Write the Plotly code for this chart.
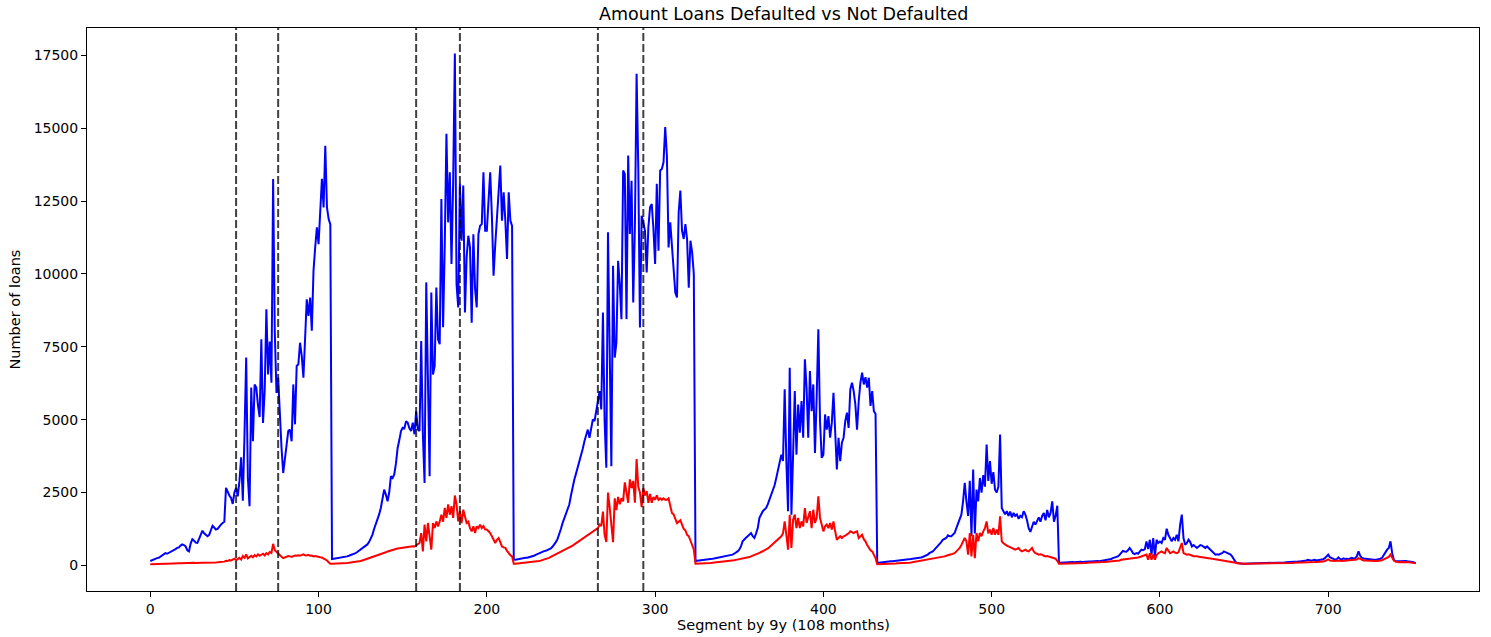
import plotly.graph_objects as go

# Monthly loan counts, one list per 108-month (9y) segment.
# Blue: loans not defaulted, red: loans defaulted.
not_defaulted_seg1 = [
    150, 180, 200, 230, 250, 260, 300, 330, 380, 420,
    400, 430, 460, 480, 520, 560, 600, 620, 680, 720,
    700, 650, 520, 480, 750, 900, 850, 780, 770, 900,
    1000, 1190, 1100, 1050, 1000, 1050, 1200, 1360, 1300, 1230,
    1250, 1350, 1400, 1455, 1500, 2660, 2500, 2400, 2315, 2110,
    2500, 2660, 2370, 2900, 3710, 2220, 4500, 7130, 3000, 2030,
    6100, 4260, 6210, 6100, 5500, 5090, 7760, 4890, 6000, 8790,
    6550, 7680, 6270, 13260, 8000, 5920, 6440, 5000, 4030, 3170,
    3600, 4200, 4610, 4660, 4260, 6210, 4840, 6840, 6900, 7640,
    7200, 6440, 7760, 9130, 8560, 9190, 8050, 10110, 10910, 11600,
    11020, 12280, 13260, 12280, 14400, 12280, 11880, 11700,
]
not_defaulted_seg2 = [
    220, 230, 240, 230, 250, 270, 260, 280, 300, 310,
    330, 350, 380, 400, 420, 460, 500, 540, 580, 620,
    680, 720, 800, 900, 1050, 1250, 1400, 1550, 1750, 1970,
    2300, 2600, 2430, 2200, 2500, 3060, 3000, 3120, 3500, 4030,
    4300, 4610, 4720, 4700, 4950, 4890, 4700, 4610, 4900, 4500,
    5290, 4660, 4610, 7700, 4490, 2830, 9710, 6500, 3060, 9360,
    6550, 6840, 9530, 7760, 7590, 12570, 8170, 11000, 14810, 11770,
    13490, 10340, 13150, 17560, 9650, 8850, 13090, 11140, 13030, 8680,
    10570, 11310, 10910, 8330, 11360, 9500, 8850, 11360, 11650, 11710,
    13490, 11480, 11480, 12500, 13490, 12000, 9940, 11000, 12060, 12970,
    13720, 11830, 12800, 11830, 10510, 12800, 11830, 11650,
]
not_defaulted_seg3 = [
    200, 195, 210, 220, 230, 240, 250, 260, 265, 275,
    290, 310, 330, 360, 390, 420, 440, 460, 490, 500,
    520, 540, 580, 640, 710, 800, 900, 1050, 1250, 1450,
    1630, 1800, 1950, 2090, 2400, 2720, 2950, 3150, 3350, 3600,
    3800, 4000, 4260, 4450, 4660, 4380, 4660, 5010, 4950, 5290,
    5600, 5980, 5350, 8680, 4950, 3350, 11430, 6780, 3400, 10280,
    7130, 7640, 10450, 9650, 8450, 13550, 13430, 8450, 14060, 11370,
    13200, 9020, 11650, 16870, 13660, 8160, 12000, 11770, 11480, 10050,
    11600, 12290, 12400, 11540, 10340, 13090, 10800, 13550, 13600, 13830,
    15040, 14060, 10910, 11770, 11020, 10110, 9360, 9190, 12110, 12860,
    11480, 11200, 11710, 11200, 9530, 11140, 10740, 10000,
]
not_defaulted_seg4 = [
    150, 160, 165, 170, 180, 190, 195, 200, 210, 220,
    230, 240, 250, 260, 270, 280, 290, 300, 310, 330,
    340, 350, 370, 400, 430, 480, 540, 650, 825, 900,
    950, 1000, 1060, 1110, 1000, 940, 1100, 1280, 1630, 1750,
    1860, 1920, 1970, 2100, 2260, 2400, 2540, 2750, 3000, 3250,
    3460, 3800, 3580, 6040, 3575, 1860, 6780, 1740, 3800, 5980,
    3800, 5520, 4550, 5640, 4380, 7070, 6100, 4380, 6670, 5290,
    6210, 3860, 5750, 8100, 4950, 3690, 3800, 5180, 4660, 5120,
    4380, 4890, 5920, 4720, 3290, 4380, 3580, 4210, 4380, 4950,
    5240, 4720, 6040, 6270, 5980, 5520, 4660, 5640, 6270, 6610,
    6210, 6460, 6100, 6440, 5470, 5980, 5290, 5200,
]
not_defaulted_seg5 = [
    80, 90, 100, 105, 110, 115, 120, 130, 140, 145,
    150, 160, 165, 170, 180, 185, 195, 200, 210, 215,
    220, 230, 235, 245, 250, 260, 270, 290, 310, 330,
    370, 420, 450, 480, 540, 600, 650, 710, 800, 880,
    900, 940, 1030, 1000, 1000, 1060, 1110, 1280, 1455, 1600,
    1740, 2200, 2830, 2200, 1700, 2900, 1000, 3290, 1100, 2600,
    2200, 3000, 2500, 3100, 2700, 4150, 2900, 3580, 2800, 3200,
    2600, 2500, 2700, 4490, 1970, 1860, 1750, 1860, 1700, 1850,
    1650, 1800, 1700, 1750, 1600, 1700, 1650, 1860, 1750, 1550,
    1280, 1150, 1350, 1500, 1400, 1550, 1650, 1500, 1700, 1800,
    1550, 1900, 1650, 1800, 2200, 1500, 1700, 2050,
]
not_defaulted_seg6 = [
    100, 95, 100, 105, 100, 110, 105, 110, 115, 110,
    120, 115, 120, 125, 120, 130, 125, 130, 135, 130,
    140, 140, 145, 150, 145, 155, 160, 160, 170, 180,
    200, 220, 250, 270, 290, 310, 360, 420, 500, 480,
    470, 520, 600, 520, 420, 390, 420, 400, 470, 540,
    520, 560, 825, 560, 880, 370, 940, 310, 880, 770,
    820, 770, 940, 880, 1260, 1050, 940, 825, 940, 880,
    1050, 825, 1400, 1740, 940, 710, 770, 880, 800, 650,
    700, 650, 600, 650, 700, 680, 640, 600, 650, 600,
    540, 480, 420, 370, 380, 370, 400, 420, 480, 450,
    420, 400, 370, 300, 195, 110, 80, 65,
]
not_defaulted_seg7 = [
    60, 60, 60, 65, 65, 65, 70, 70, 70, 75,
    75, 75, 80, 80, 80, 85, 85, 85, 90, 90,
    90, 95, 95, 95, 100, 100, 100, 105, 105, 110,
    110, 115, 120, 125, 130, 135, 140, 150, 160, 170,
    195, 170, 160, 180, 190, 170, 180, 200, 195, 210,
    250, 330, 370, 280, 250, 230, 200, 210, 275, 220,
    200, 240, 220, 230, 210, 240, 260, 230, 250, 310,
    480, 330, 260, 240, 230, 210, 200, 195, 190, 195,
    190, 200, 210, 230, 260, 370, 450, 540, 600, 825,
    420, 195, 140, 130, 140, 140, 150, 160, 150, 140,
    140, 130, 120, 100, 80,
]

defaulted_seg1 = [
    40, 45, 45, 50, 50, 55, 55, 55, 60, 60,
    60, 65, 65, 65, 70, 70, 70, 75, 75, 80,
    80, 80, 85, 85, 85, 90, 90, 85, 80, 80,
    85, 90, 90, 95, 95, 100, 100, 95, 95, 100,
    105, 110, 115, 120, 130, 160, 150, 180, 170, 200,
    230, 180, 210, 260, 200, 320, 260, 380, 240, 300,
    330, 280, 350, 310, 380, 330, 360, 400, 340, 420,
    380, 460, 430, 740, 520, 460, 400, 330, 300, 250,
    280, 300, 320, 310, 290, 320, 340, 330, 350, 330,
    360, 380, 350, 340, 360, 330, 340, 310, 320, 300,
    290, 280, 270, 240, 200, 170, 110, 60,
]
defaulted_seg2 = [
    60, 60, 65, 65, 70, 70, 75, 75, 80, 85,
    90, 95, 100, 110, 120, 130, 140, 150, 170, 190,
    210, 230, 250, 270, 290, 310, 330, 340, 350, 380,
    400, 430, 450, 480, 500, 520, 540, 560, 560, 580,
    590, 600, 600, 610, 620, 630, 640, 650, 660, 650,
    700, 740, 770, 1110, 480, 1400, 825, 1455, 1050, 540,
    1455, 1280, 1510, 1340, 1510, 1740, 1500, 1970, 1630, 2090,
    1740, 2030, 1630, 2400, 2090, 1510, 1860, 1455, 1910, 1630,
    1455, 1500, 1280, 1170, 1340, 1110, 1340, 1280, 1400, 1280,
    1350, 1230, 1230, 1170, 1110, 1000, 880, 770, 880, 940,
    800, 650, 620, 600, 500, 420, 350, 310,
]
defaulted_seg3 = [
    60, 60, 65, 70, 70, 75, 80, 85, 90, 95,
    100, 110, 120, 130, 140, 150, 165, 180, 200, 220,
    240, 260, 290, 320, 350, 370, 400, 430, 460, 490,
    520, 550, 580, 600, 640, 680, 720, 760, 800, 840,
    880, 920, 960, 1000, 1040, 1080, 1120, 1150, 1200, 1250,
    1280, 1400, 1350, 1850, 1050, 800, 2500, 2000, 1500, 800,
    2300, 1900, 2350, 2100, 2300, 2200, 2850, 2400, 2150, 2950,
    2650, 2900, 2150, 3650, 2700, 2500, 2000, 2650, 2400, 2550,
    2150, 2450, 2150, 2350, 2250, 2400, 2250, 2300, 2250, 2300,
    2250, 2250, 2300, 2050, 1800, 1750, 1600, 1450, 1500, 1550,
    1400, 1250, 1200, 1050, 1000, 850, 750, 550,
]
defaulted_seg4 = [
    60, 60, 65, 65, 70, 70, 75, 80, 80, 85,
    90, 95, 100, 105, 110, 115, 120, 130, 135, 140,
    150, 155, 160, 175, 190, 200, 210, 220, 230, 240,
    250, 270, 290, 310, 330, 350, 370, 400, 430, 460,
    490, 520, 540, 580, 630, 680, 720, 780, 825, 880,
    940, 1000, 1100, 1510, 1050, 540, 1740, 600, 1570, 1740,
    1280, 1630, 1280, 1510, 1340, 1970, 1455, 1630, 1860, 1280,
    1910, 1455, 1630, 2370, 1630, 1400, 1170, 1340, 1400, 1280,
    1455, 1230, 1510, 1170, 880, 940, 1000, 940, 1000, 1020,
    1050, 1100, 1170, 1140, 1110, 1150, 1170, 940, 1000, 1050,
    900, 825, 700, 600, 520, 480, 350, 250,
]
defaulted_seg5 = [
    40, 40, 45, 45, 50, 50, 55, 55, 60, 60,
    65, 65, 70, 70, 75, 80, 80, 85, 90, 95,
    100, 110, 120, 130, 140, 150, 160, 170, 180, 190,
    200, 210, 220, 230, 240, 250, 250, 270, 290, 300,
    310, 330, 340, 360, 380, 400, 420, 480, 540, 600,
    700, 800, 940, 825, 370, 1110, 310, 1050, 250, 1110,
    825, 1110, 1000, 1170, 1280, 1510, 1100, 1230, 1050, 1280,
    1050, 1230, 1050, 1680, 825, 760, 710, 680, 650, 620,
    600, 570, 540, 570, 600, 520, 480, 510, 540, 500,
    480, 540, 600, 480, 420, 400, 370, 380, 370, 330,
    310, 320, 300, 270, 250, 240, 230, 150,
]
defaulted_seg6 = [
    60, 60, 60, 65, 65, 65, 70, 70, 70, 75,
    75, 75, 80, 80, 80, 85, 85, 90, 90, 95,
    95, 100, 100, 105, 110, 110, 115, 120, 125, 130,
    130, 135, 140, 140, 150, 160, 170, 195, 200, 210,
    215, 220, 230, 230, 240, 250, 260, 270, 290, 310,
    330, 350, 370, 195, 420, 195, 370, 195, 350, 420,
    450, 480, 440, 420, 600, 500, 420, 450, 480, 440,
    420, 450, 600, 770, 420, 400, 370, 380, 370, 340,
    310, 320, 310, 300, 290, 270, 250, 260, 250, 240,
    230, 225, 220, 210, 205, 200, 195, 190, 180, 170,
    160, 150, 140, 125, 115, 90, 70, 60,
]
defaulted_seg7 = [
    55, 55, 55, 60, 60, 60, 60, 60, 65, 65,
    65, 65, 65, 70, 70, 70, 70, 70, 70, 75,
    75, 75, 75, 75, 80, 80, 80, 80, 80, 85,
    85, 85, 90, 90, 90, 95, 95, 100, 100, 105,
    110, 110, 115, 115, 115, 120, 120, 120, 125, 130,
    150, 195, 210, 170, 160, 155, 150, 160, 170, 160,
    155, 160, 165, 160, 155, 165, 170, 165, 170, 200,
    250, 220, 180, 170, 165, 160, 155, 150, 150, 155,
    150, 155, 160, 170, 180, 210, 230, 250, 290, 370,
    260, 170, 130, 115, 110, 115, 120, 115, 110, 110,
    105, 100, 95, 85, 70,
]

# Segment positions marked with dashed vertical lines
segment_markers = [51, 76, 158, 184, 266, 293]

x_ticks = [0, 100, 200, 300, 400, 500, 600, 700]
y_ticks = [0, 2500, 5000, 7500, 10000, 12500, 15000, 17500]

not_defaulted = (not_defaulted_seg1 + not_defaulted_seg2 + not_defaulted_seg3
                 + not_defaulted_seg4 + not_defaulted_seg5 + not_defaulted_seg6
                 + not_defaulted_seg7)
defaulted = (defaulted_seg1 + defaulted_seg2 + defaulted_seg3 + defaulted_seg4
             + defaulted_seg5 + defaulted_seg6 + defaulted_seg7)

fig = go.Figure()
fig.add_trace(go.Scatter(
    x=list(range(len(not_defaulted))), y=not_defaulted, mode="lines",
    name="Not defaulted", line=dict(color="#0000ff", width=2),
))
fig.add_trace(go.Scatter(
    x=list(range(len(defaulted))), y=defaulted, mode="lines",
    name="Defaulted", line=dict(color="#ff0000", width=2),
))

for xm in segment_markers:
    fig.add_shape(
        type="line", xref="x", yref="paper", x0=xm, x1=xm, y0=0, y1=1,
        line=dict(color="rgba(0,0,0,0.75)", width=2, dash="8px,3px"),
        layer="above",
    )

font_family = "DejaVu Sans"
fig.update_layout(
    width=1491, height=637,
    margin=dict(l=87, r=12, t=28, b=46),
    paper_bgcolor="white", plot_bgcolor="white",
    showlegend=False,
    font=dict(family=font_family, size=14, color="#000000"),
    annotations=[
        dict(text="Amount Loans Defaulted vs Not Defaulted", xref="paper", yref="paper",
             x=0.5, y=1.0249, xanchor="center", yanchor="middle", showarrow=False,
             font=dict(family=font_family, size=17.5, color="#000000")),
        dict(text="Segment by 9y (108 months)", xref="paper", yref="paper",
             x=0.5, y=-0.0604, xanchor="center", yanchor="middle", showarrow=False,
             font=dict(family=font_family, size=14.5, color="#000000")),
        dict(text="Number of loans", xref="paper", yref="paper",
             x=-0.0524, y=0.5, xanchor="center", yanchor="middle", showarrow=False,
             textangle=-90, font=dict(family=font_family, size=14.5, color="#000000")),
    ],
)
fig.update_xaxes(
    range=[-37.6, 789.6], tickvals=x_ticks, ticks="outside", ticklen=5,
    tickwidth=1, tickcolor="#000000", showline=True, linecolor="#000000",
    linewidth=1, mirror=True, showgrid=False, zeroline=False,
    tickfont=dict(family=font_family, size=14, color="#000000"),
)
fig.update_yaxes(
    range=[-878, 18438], tickvals=y_ticks, tickformat="d", ticks="outside",
    ticklen=5, tickwidth=1, tickcolor="#000000", showline=True,
    linecolor="#000000", linewidth=1, mirror=True, showgrid=False,
    zeroline=False, tickfont=dict(family=font_family, size=14, color="#000000"),
)

fig.write_html("out.html")
